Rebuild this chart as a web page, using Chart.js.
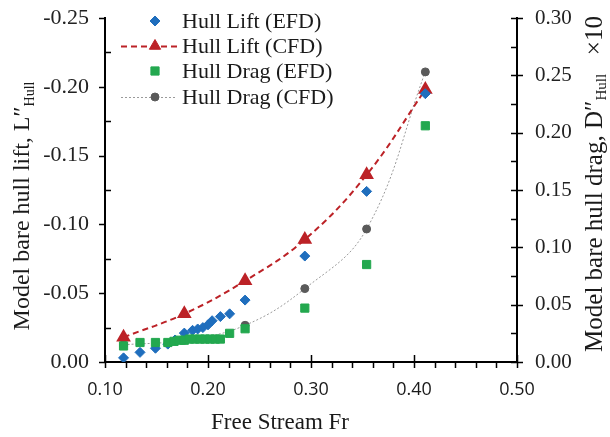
<!DOCTYPE html>
<html>
<head>
<meta charset="utf-8">
<script src="https://cdn.jsdelivr.net/npm/chart.js@4.4.0/dist/chart.umd.min.js"></script>
<style>
html, body { margin: 0; padding: 0; background: #fff; }
#wrap { position: relative; width: 610px; height: 437px; }
</style>
</head>
<body>
<div id="wrap"><canvas id="grafico"></canvas></div>
<script>
// Froude numbers and values
var frLiftEfd = [0.118, 0.134, 0.149, 0.161, 0.168, 0.177, 0.185, 0.190, 0.195, 0.200, 0.204, 0.212, 0.221, 0.236, 0.294, 0.354, 0.411]
var liftEfd = [-0.003, -0.007, -0.010, -0.013, -0.016, -0.021, -0.023, -0.024, -0.025, -0.027, -0.030, -0.033, -0.035, -0.045, -0.077, -0.124, -0.195]

var frCfd = [0.118, 0.177, 0.236, 0.294, 0.354, 0.411]
var liftCfd = [-0.018, -0.035, -0.059, -0.089, -0.136, -0.198]
var dragCfd = [0.015, 0.019, 0.032, 0.064, 0.116, 0.253]

var frDragEfd = [0.118, 0.134, 0.149, 0.161, 0.167, 0.172, 0.177, 0.182, 0.187, 0.192, 0.197, 0.202, 0.207, 0.212, 0.221, 0.236, 0.294, 0.354, 0.411]
var dragEfd = [0.014, 0.017, 0.017, 0.017, 0.018, 0.019, 0.019, 0.020, 0.020, 0.020, 0.020, 0.020, 0.020, 0.020, 0.025, 0.029, 0.047, 0.085, 0.206]

var xTicks = [0.10, 0.20, 0.30, 0.40, 0.50]
var liftTicks = [-0.25, -0.20, -0.15, -0.10, -0.05, 0.00]
var dragTicks = [0.00, 0.05, 0.10, 0.15, 0.20, 0.25, 0.30]

var serif = "'Liberation Serif', 'Times New Roman', serif"
var blue = "#1F6EBD"
var red = "#BC2227"
var green = "#23A84F"
var gray = "#5a5a5a"

function pares(xs, ys) {
    return xs.map((x, i) => ({ x: x, y: ys[i] }))
}

// ticks marks for the axes (Excel style: majors out, minors in)
var marcas = {
    id: 'marcas',
    afterDraw(chart) {
        let ctx = chart.ctx
        let a = chart.chartArea
        let sx = chart.scales.x, sy = chart.scales.y, sy2 = chart.scales.y2
        ctx.save()
        ctx.strokeStyle = '#000'
        ctx.lineWidth = 1.5
        ctx.beginPath()
        for (let v = 0.10; v <= 0.501; v += 0.02) {
            let px = Math.round(sx.getPixelForValue(v)) + 0.5
            ctx.moveTo(px, a.bottom); ctx.lineTo(px, a.bottom + 6)
        }
        xTicks.forEach(v => {
            let px = Math.round(sx.getPixelForValue(v)) + 0.5
            ctx.moveTo(px, a.bottom); ctx.lineTo(px, a.bottom - 7)
        })
        for (let v = -0.25; v <= 0.001; v += 0.025) {
            let py = Math.round(sy.getPixelForValue(v)) + 0.5
            let major = Math.abs(v / 0.05 - Math.round(v / 0.05)) < 0.01
            if (major) { ctx.moveTo(a.left - 6, py); ctx.lineTo(a.left, py) }
            else { ctx.moveTo(a.left, py); ctx.lineTo(a.left + 6, py) }
        }
        for (let v = 0; v <= 0.301; v += 0.025) {
            let py = Math.round(sy2.getPixelForValue(v)) + 0.5
            let major = Math.abs(v / 0.05 - Math.round(v / 0.05)) < 0.01
            if (major) { ctx.moveTo(a.right - 6, py); ctx.lineTo(a.right + 6, py) }
            else { ctx.moveTo(a.right - 6, py); ctx.lineTo(a.right, py) }
        }
        ctx.stroke()
        ctx.restore()
    }
}

function tituloVertical(ctx, cx, cy, partes) {
    ctx.save()
    ctx.translate(cx, cy)
    ctx.rotate(-Math.PI / 2)
    ctx.textBaseline = 'middle'
    ctx.textAlign = 'left'
    let total = 0
    partes.forEach(p => { ctx.font = p.size + 'px ' + serif; total += ctx.measureText(p.t).width })
    let x = -total / 2
    partes.forEach(p => {
        ctx.font = p.size + 'px ' + serif
        ctx.fillText(p.t, x, p.dy || 0)
        x += ctx.measureText(p.t).width
    })
    ctx.restore()
}

var titulos = {
    id: 'titulos',
    afterDraw(chart) {
        let ctx = chart.ctx
        ctx.save()
        ctx.fillStyle = '#1a1a1a'
        tituloVertical(ctx, 23, 206, [
            { t: 'Model bare hull lift, L\u2033', size: 24 },
            { t: 'Hull', size: 14, dy: 7 }
        ])
        tituloVertical(ctx, 595, 184, [
            { t: 'Model bare hull drag, D\u2033', size: 25 },
            { t: 'Hull', size: 15, dy: 7 },
            { t: '   \u00d710', size: 25 }
        ])
        ctx.font = '23px ' + serif
        ctx.textAlign = 'center'
        ctx.textBaseline = 'middle'
        ctx.fillText('Free Stream Fr', 280, 423)
        ctx.restore()
    }
}

var legenda = {
    id: 'legenda',
    afterDraw(chart) {
        let ctx = chart.ctx
        let itens = [
            { label: 'Hull Lift (EFD)', cor: blue, estilo: 'rectRot', r: 5 },
            { label: 'Hull Lift (CFD)', cor: red, estilo: 'triangle', r: 6.5, linha: [6, 4], lw: 2 },
            { label: 'Hull Drag (EFD)', cor: green, estilo: 'rect', r: 5.8 },
            { label: 'Hull Drag (CFD)', cor: gray, estilo: 'circle', r: 4, linha: [2, 2], lw: 1, corLinha: '#9a9a9a' }
        ]
        let ys = [21, 46, 71, 97]
        ctx.save()
        itens.forEach((it, i) => {
            let y = ys[i]
            if (it.linha) {
                ctx.setLineDash(it.linha)
                ctx.strokeStyle = it.corLinha || it.cor
                ctx.lineWidth = it.lw
                ctx.beginPath()
                ctx.moveTo(121, y + 0.5); ctx.lineTo(177, y + 0.5)
                ctx.stroke()
                ctx.setLineDash([])
            }
            ctx.fillStyle = it.cor
            ctx.strokeStyle = it.cor
            ctx.lineWidth = 1
            Chart.helpers.drawPoint(ctx, { pointStyle: it.estilo, radius: it.r, rotation: 0, borderWidth: 1 }, 155, y)
            ctx.fillStyle = '#1a1a1a'
            ctx.font = '22px ' + serif
            ctx.textBaseline = 'middle'
            ctx.textAlign = 'left'
            ctx.fillText(it.label, 182, y + 1)
        })
        ctx.restore()
    }
}

var ctxGrafico = document.querySelector('#grafico')

new Chart(ctxGrafico, {
    type: 'scatter',
    data: {
        datasets: [
            {
                label: 'Hull Lift (EFD)',
                data: pares(frLiftEfd, liftEfd),
                yAxisID: 'y',
                pointStyle: 'rectRot',
                pointRadius: 5,
                backgroundColor: blue,
                borderColor: blue,
                showLine: false,
                order: 2
            },
            {
                label: 'Hull Lift (CFD)',
                data: pares(frCfd, liftCfd),
                yAxisID: 'y',
                pointStyle: 'triangle',
                pointRadius: 6.5,
                backgroundColor: red,
                borderColor: red,
                showLine: true,
                borderWidth: 2,
                borderDash: [6, 4],
                tension: 0.4,
                order: 3
            },
            {
                label: 'Hull Drag (EFD)',
                data: pares(frDragEfd, dragEfd),
                yAxisID: 'y2',
                pointStyle: 'rect',
                pointRadius: 5.8,
                backgroundColor: green,
                borderColor: green,
                showLine: false,
                order: 1
            },
            {
                label: 'Hull Drag (CFD)',
                data: pares(frCfd, dragCfd),
                yAxisID: 'y2',
                pointStyle: 'circle',
                pointRadius: 4,
                backgroundColor: gray,
                borderColor: '#9a9a9a',
                pointBorderColor: gray,
                showLine: true,
                borderWidth: 1,
                borderDash: [2, 2],
                tension: 0.4,
                order: 4
            }
        ]
    },
    options: {
        responsive: true,
        maintainAspectRatio: false,
        animation: false,
        layout: { padding: { top: 18, left: 0, right: 0, bottom: 0 } },
        plugins: {
            legend: { display: false },
            tooltip: { enabled: false }
        },
        scales: {
            x: {
                type: 'linear',
                min: 0.1,
                max: 0.5,
                afterFit: s => { s.height = 75; s.paddingLeft = 0; s.paddingRight = 0 },
                afterBuildTicks: s => { s.ticks = xTicks.map(v => ({ value: v })) },
                border: { display: true, color: '#000', width: 2 },
                grid: { display: false, drawTicks: false },
                ticks: {
                    padding: 17,
                    color: '#1a1a1a',
                    font: { family: "'Open Sans', sans-serif", size: 18 },
                    callback: v => v.toFixed(2)
                }
            },
            y: {
                type: 'linear',
                position: 'left',
                min: -0.25,
                max: 0,
                reverse: true,
                afterFit: s => { s.width = 105; s.paddingTop = 0; s.paddingBottom = 0 },
                afterBuildTicks: s => { s.ticks = liftTicks.map(v => ({ value: v })) },
                border: { display: true, color: '#000', width: 2 },
                grid: { display: false, drawTicks: false },
                ticks: {
                    padding: 16,
                    color: '#222',
                    font: { family: serif, size: 22 },
                    callback: v => v.toFixed(2)
                }
            },
            y2: {
                type: 'linear',
                position: 'right',
                min: 0,
                max: 0.3,
                afterFit: s => { s.width = 93; s.paddingTop = 0; s.paddingBottom = 0 },
                afterBuildTicks: s => { s.ticks = dragTicks.map(v => ({ value: v })) },
                border: { display: true, color: '#000', width: 2 },
                grid: { display: false, drawTicks: false },
                ticks: {
                    padding: 18,
                    color: '#222',
                    font: { family: serif, size: 21 },
                    callback: v => v.toFixed(2)
                }
            }
        }
    },
    plugins: [marcas, titulos, legenda]
})
</script>
</body>
</html>
